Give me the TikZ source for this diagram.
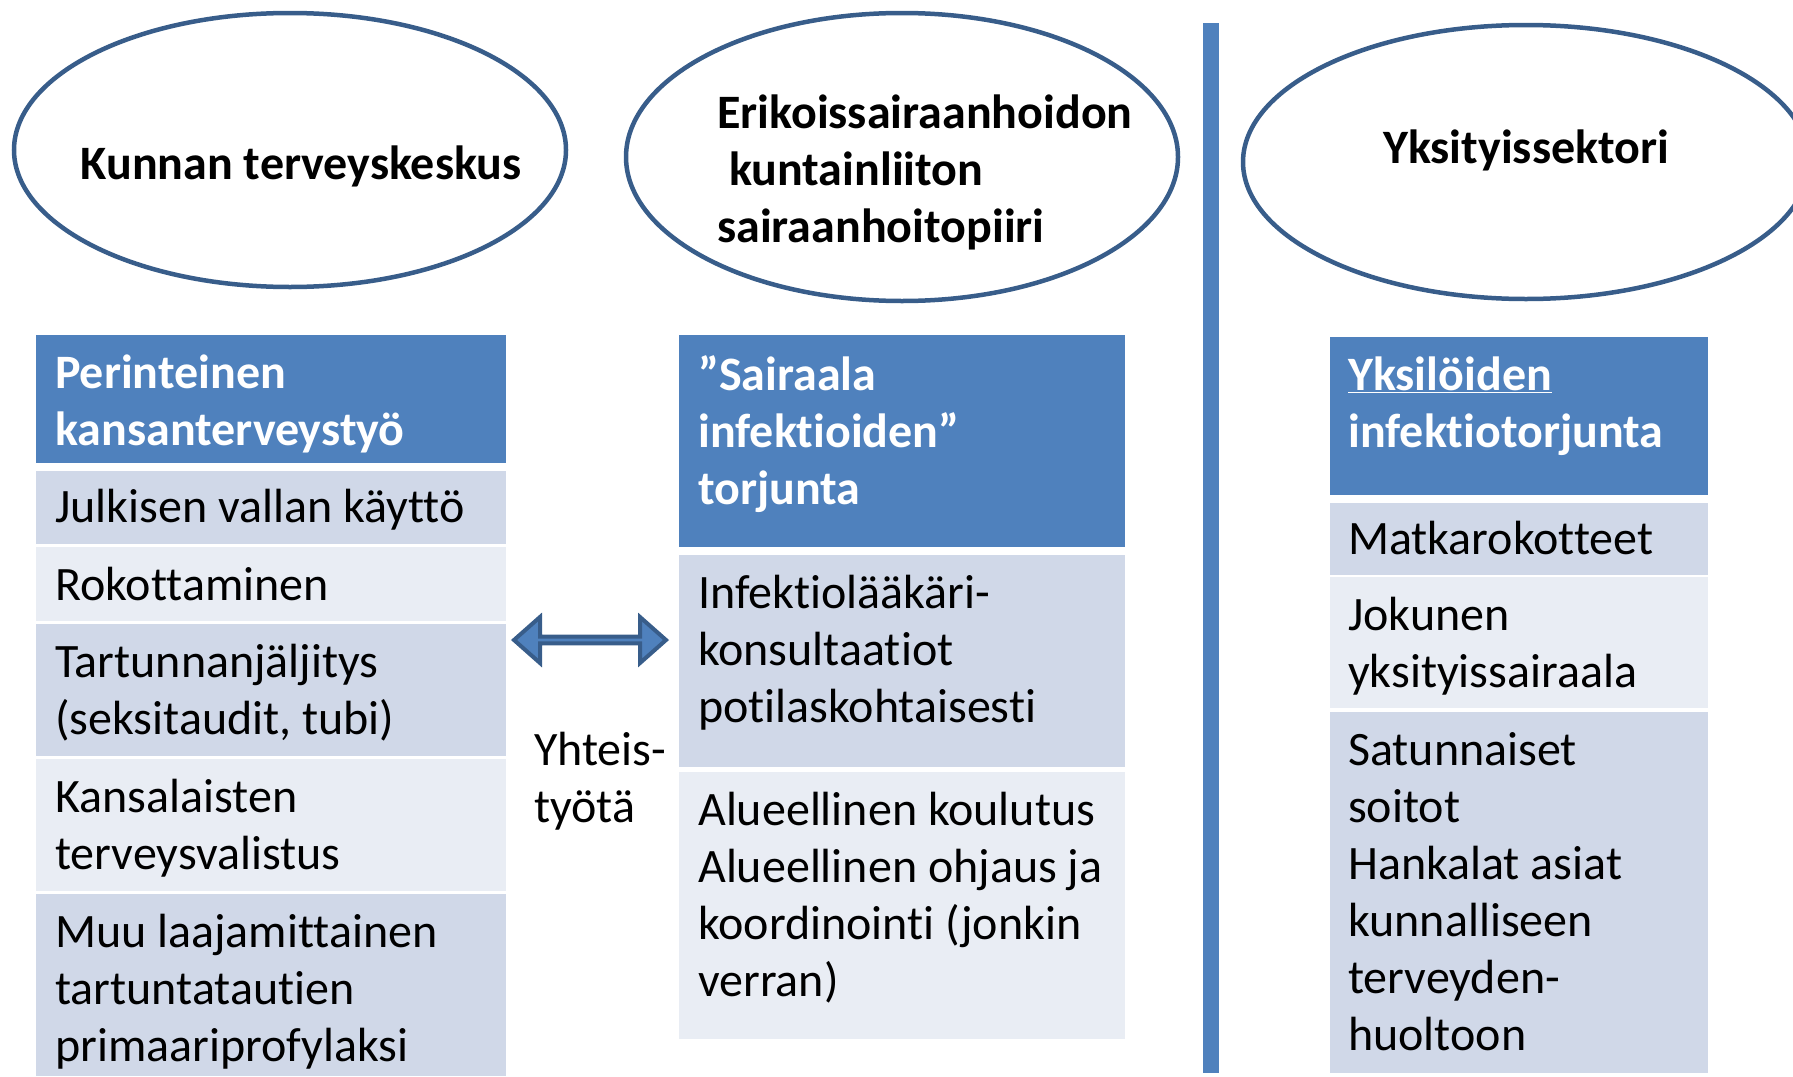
\documentclass[tikz,border=0pt]{standalone}
\usepackage{fontspec}
\setmainfont{Carlito}[Ligatures=NoCommon]
\usetikzlibrary{shapes.arrows}
\definecolor{hdrblue}{HTML}{4F81BD}
\definecolor{rowdark}{HTML}{D0D8E8}
\definecolor{rowlight}{HTML}{E9EDF4}
\definecolor{linedark}{HTML}{385D8A}
\begin{document}
\begin{tikzpicture}[x=1pt,y=-1pt,
    sector/.style={draw=linedark, line width=4.5pt, fill=white},
    cell/.style={anchor=north west, align=left, inner sep=0pt,
      execute at begin node={\rule{0pt}{42pt}}, font=\fontsize{48}{57}\selectfont},
    headcell/.style={cell, text=white, font=\fontsize{48}{57}\selectfont\bfseries},
    sectorname/.style={cell, font=\fontsize{48}{57}\selectfont\bfseries}]
      % Fix the size of the slide
      \useasboundingbox (0,0) rectangle (1793,1076);
      \clip (0,0) rectangle (1793,1076);

      % Draw the three sector ellipses
      \draw[sector] (290,150) ellipse (276 and 137);
      \draw[sector] (902,157) ellipse (276 and 144);
      \draw[sector] (1526,162) ellipse (283 and 137);

      % Label the ellipses
      \node[sectorname, anchor=north] (kunta) at (301,137) {Kunnan terveyskeskus};
      \node[sectorname] (shp) at (717,95)
        {Erikoissairaanhoidon\\\hspace*{0.25em}kuntainliiton\\sairaanhoitopiiri};
      \node[sectorname, anchor=north] (yksit) at (1526,121) {Yksityissektori};

      % Separator between public and private
      \fill[hdrblue] (1203,23) rectangle (1219,1073);

      % Left column
      \fill[hdrblue] (36,335) rectangle (506,463);
      \node[headcell] (kth) at (55,355) {Perinteinen\\kansanterveystyö};
      \fill[rowdark] (36,471) rectangle (506,544);
      \node[cell] (k1) at (55,480) {Julkisen vallan käyttö};
      \fill[rowlight] (36,547) rectangle (506,621);
      \node[cell] (k2) at (55,558) {Rokottaminen};
      \fill[rowdark] (36,624) rectangle (506,756);
      \node[cell] (k3) at (55,644) {Tartunnanjäljitys\\(seksitaudit, tubi)};
      \fill[rowlight] (36,759) rectangle (506,891);
      \node[cell] (k4) at (55,779) {Kansalaisten\\terveysvalistus};
      \fill[rowdark] (36,894) rectangle (506,1076);
      \node[cell] (k5) at (55,914) {Muu laajamittainen\\tartuntatautien\\primaariprofylaksi};

      % Middle column
      \fill[hdrblue] (679,335) rectangle (1125,547);
      \node[headcell] (sth) at (698,355) {”Sairaala\\infektioiden”\\torjunta};
      \fill[rowdark] (679,555) rectangle (1125,767);
      \node[cell] (s1) at (698,575) {Infektiolääkäri-\\konsultaatiot\\potilaskohtaisesti};
      \fill[rowlight] (679,772) rectangle (1125,1039);
      \node[cell] (s2) at (698,792) {Alueellinen koulutus\\Alueellinen ohjaus ja\\koordinointi (jonkin\\verran)};

      % Right column
      \fill[hdrblue] (1330,337) rectangle (1708,495);
      \node[headcell] (yth) at (1348,357) {\underline{Yksilöiden}\\infektiotorjunta};
      \fill[rowdark] (1330,503) rectangle (1708,575);
      \node[cell] (y1) at (1348,512) {Matkarokotteet};
      \fill[rowlight] (1330,577) rectangle (1708,708);
      \node[cell] (y2) at (1348,597) {Jokunen\\yksityissairaala};
      \fill[rowdark] (1330,712) rectangle (1708,1073);
      \node[cell] (y3) at (1348,732) {Satunnaiset\\soitot\\Hankalat asiat\\kunnalliseen\\terveyden-\\huoltoon};

      % Cooperation arrow
      \node[double arrow, draw=linedark, fill=hdrblue, line width=4pt, inner sep=0pt,
        minimum height=152pt, minimum width=46pt, double arrow head extend=12pt,
        double arrow tip angle=83] (coop) at (590,640) {};
      \node[cell] (yht) at (534,732) {Yhteis-\\työtä};
  \end{tikzpicture}
\end{document}
